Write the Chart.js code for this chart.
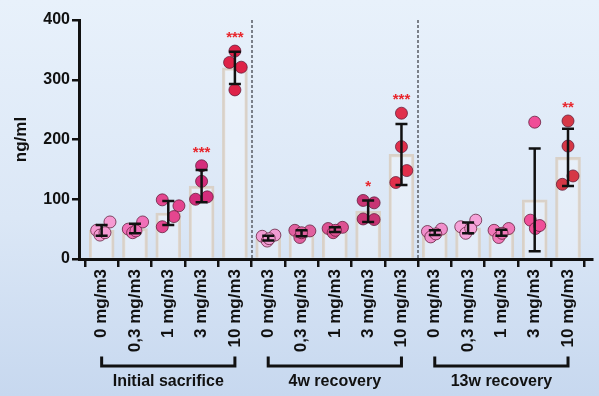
<!DOCTYPE html>
<html><head><meta charset="utf-8">
<script src="https://cdn.jsdelivr.net/npm/chart.js@4/dist/chart.umd.min.js"></script>
<style>
html,body{margin:0;padding:0;}
body{width:599px;height:396px;overflow:hidden;background:linear-gradient(to bottom,#e8f1fb 0%,#dbe7f6 55%,#c7d8ef 100%);}
#wrap{width:599px;height:396px;position:relative;}
</style></head><body><div id="wrap"><canvas id="c" width="599" height="396"></canvas></div>
<script>
const doses = ['0 mg/m3','0,3 mg/m3','1 mg/m3','3 mg/m3','10 mg/m3'];
const groups = ['Initial sacrifice','4w recovery','13w recovery'];
const categories = [...doses, ...doses, ...doses];
const means = [48,51,77,122,320, 35,43,49,80,175, 44,52,44,99,170];
const sd    = [9,8,20,27,27, 4,5,4,18,51, 4,9,5,86,48];
const points = [
  [48,62,40,44],[50,62,44,47],[99,89,71,54],[156,130,100,104],[348,329,321,283],
  [38,40,30,34],[48,47,36,44],[51,53,44,48],[98,94,67,66],[244,188,148,128],
  [46,50,37,42],[54,65,43,51],[48,51,36,43],[229,65,51,56],[231,189,139,125]
];
const jitter = [
  [-0.15,0.25,-0.05,0.1],[-0.2,0.23,-0.07,0.03],[-0.18,0.32,0.17,-0.18],[0,0,-0.18,0.17],[0,-0.16,0.19,0],
  [-0.18,0.2,-0.03,0.03],[-0.2,0.25,-0.05,0],[-0.2,0.23,-0.05,0.02],[-0.15,0.18,-0.15,0.18],[0,0,0.16,-0.17],
  [-0.22,0.2,-0.12,0.03],[-0.22,0.23,-0.07,0.08],[-0.22,0.22,-0.08,0.02],[0,-0.13,0.02,0.15],[0,0,0.15,-0.17]
];
const stars = ['','','','***','***', '','','','*','***', '','','','','**'];
const pointColors = [
  '#f59ad2','#f070b8','#e4468f','#d42e7c','#de2248',
  '#f09cd2','#e0609f','#dc5292','#c83474','#e0304c',
  '#f08ecb','#f5a2d8','#f078b8','#f04e98','#d63846'
];
const yTicks = [0,100,200,300,400];
const dividers = [4.5, 9.5];

const scatterData = [], scatterColors = [];
points.forEach((arr,i)=>arr.forEach((v,k)=>{scatterData.push({x:i+jitter[i][k], y:v}); scatterColors.push(pointColors[i]);}));

const FONT = 'Liberation Sans';

const extras = {
  id:'extras',
  beforeDatasetsDraw(chart){
    const {ctx, chartArea:a, scales:{x}} = chart;
    ctx.save();
    ctx.strokeStyle = '#7a7f88'; ctx.lineWidth = 2; ctx.setLineDash([3,2]);
    dividers.forEach(d=>{const px = Math.round(x.getPixelForValue(d));
      ctx.beginPath(); ctx.moveTo(px, a.top); ctx.lineTo(px, a.bottom); ctx.stroke();});
    ctx.restore();
  },
  afterDatasetsDraw(chart){
    const {ctx, scales:{x,y}} = chart;
    ctx.save();
    ctx.strokeStyle = '#111'; ctx.lineWidth = 2.5;
    means.forEach((m,i)=>{
      const px = x.getPixelForValue(i);
      const yt = y.getPixelForValue(m+sd[i]);
      const yb = y.getPixelForValue(Math.max(m-sd[i],0));
      ctx.beginPath();
      ctx.moveTo(px, yt); ctx.lineTo(px, yb);
      ctx.moveTo(px-6, yt); ctx.lineTo(px+6, yt);
      ctx.moveTo(px-6, yb); ctx.lineTo(px+6, yb);
      ctx.stroke();
    });
    ctx.fillStyle = '#e8262c';
    ctx.font = 'bold 15px ' + FONT;
    ctx.textAlign = 'center'; ctx.textBaseline = 'alphabetic';
    stars.forEach((s,i)=>{
      if(!s) return;
      const top = Math.max(...points[i], means[i]+sd[i]);
      const py = y.getPixelForValue(top) - 18;
      ctx.fillText(s, x.getPixelForValue(i), py + 9);
    });
    ctx.restore();
  },
  afterDraw(chart){
    const {ctx, scales:{x}} = chart;
    ctx.save();
    ctx.strokeStyle = '#111'; ctx.lineWidth = 3; ctx.lineCap = 'square';
    ctx.fillStyle = '#111'; ctx.font = 'bold 16px ' + FONT;
    ctx.textAlign = 'center'; ctx.textBaseline = 'middle';
    groups.forEach((g,gi)=>{
      const x0 = x.getPixelForValue(gi*5), x1 = x.getPixelForValue(gi*5+4);
      ctx.beginPath();
      ctx.moveTo(x0, 358); ctx.lineTo(x0, 366); ctx.lineTo(x1, 366); ctx.lineTo(x1, 358);
      ctx.stroke();
      ctx.fillText(g, (x0+x1)/2, 382);
    });
    ctx.restore();
  }
};

new Chart(document.getElementById('c'), {
  type:'bar',
  data:{
    datasets:[
      {type:'scatter', data:scatterData, pointRadius:6, pointHoverRadius:6,
       backgroundColor:scatterColors, borderColor:'rgba(95,25,55,0.75)', borderWidth:1, order:1},
      {type:'bar', data:means.map((m,i)=>({x:i,y:m})), barThickness:25,
       backgroundColor:'rgba(255,255,255,0.28)', borderColor:'#d9d1c8', borderWidth:2.5, borderSkipped:'bottom', order:2}
    ]
  },
  options:{
    responsive:false, animation:false, events:[],
    layout:{padding:{left:0,right:4,top:20,bottom:0}},
    plugins:{legend:{display:false}, tooltip:{enabled:false}},
    scales:{
      x:{type:'linear', min:-0.68, max:14.72, offset:false,
        afterBuildTicks: ax=>{ax.ticks = categories.map((c,i)=>({value:i}));},
        ticks:{autoSkip:false, minRotation:90, maxRotation:90, padding:2, color:'#111',
          font:{family:FONT, weight:'bold', size:17}, callback:(v)=>categories[v]},
        grid:{drawOnChartArea:false, drawTicks:true, tickLength:8, color:'#111', lineWidth:2.5},
        border:{color:'#111', width:3},
        afterFit: ax=>{ax.height = 137;}
      },
      y:{min:0, max:400,
        afterBuildTicks: ax=>{ax.ticks = yTicks.map(v=>({value:v}));},
        ticks:{color:'#111', padding:2, font:{family:FONT, weight:'bold', size:16}},
        grid:{drawOnChartArea:false, drawTicks:true, tickLength:7, color:'#111', lineWidth:2.5},
        border:{color:'#111', width:3},
        title:{display:true, text:'ng/ml', color:'#111', font:{family:FONT, weight:'bold', size:17}, padding:{top:11,bottom:0}},
        afterFit: ax=>{ax.width = 79;}
      }
    }
  },
  plugins:[extras]
});
</script></body></html>
